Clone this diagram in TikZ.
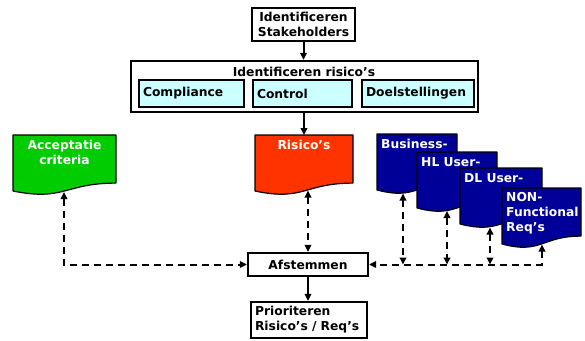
\documentclass[tikz,border=0pt]{standalone}
\usepackage{fontspec}
\setmainfont{DejaVu Sans}
\usetikzlibrary{arrows.meta}
\definecolor{boxcyan}{HTML}{CCFFFF}
\definecolor{accgreen}{HTML}{00CC00}
\definecolor{riskred}{HTML}{FF3300}
\definecolor{reqnavy}{HTML}{000099}
\newcommand\mydocshape[4]{%
  \filldraw[fill=#4, draw=black, line width=1.2pt, line join=round]
    (#1,#2) -- ({#1+#3},#2) -- ({#1+#3},{#2+48.1})
    .. controls ({#1+#3/2},{#2+48.1}) and ({#1+#3/2},{#2+66.45}) ..
    (#1,{#2+56}) -- cycle;}
\begin{document}
\begin{tikzpicture}[x=1pt,y=-1pt,
  every node/.style={font=\fontsize{12.3}{15}\selectfont\bfseries},
  box/.style={draw, line width=2.2pt, inner sep=0pt, align=center},
  cbox/.style={box, fill=boxcyan, minimum height=27pt, inner xsep=4pt, align=left},
  doctext/.style={text=white, inner sep=0pt},
  arr/.style={line width=2pt, -{Triangle[length=7pt,width=6.5pt]}},
  darr/.style={line width=2pt, dash pattern=on 7pt off 5pt,
    {Triangle[length=7pt,width=6.5pt]}-{Triangle[length=7pt,width=6.5pt]}},
]
\useasboundingbox (0,0) rectangle (585,340);
\fill[white] (0,0) rectangle (585,340);

% top box
\node[box, minimum width=103pt, minimum height=33pt] (stake) at (303.5,24.5)
  {Identificeren\\Stakeholders};

% big box
\node[box, minimum width=347pt, minimum height=51pt] (big) at (304.5,86.5) {};
\node[inner sep=0pt] (bigtitle) at (304,72) {Identificeren risico’s};
\node[cbox, minimum width=105pt, text width=97pt] (compl) at (191.5,93.5) {Compliance};
\node[cbox, minimum width=99pt, text width=91pt] (contr) at (302.5,93.5) {Control};
\node[cbox, minimum width=112pt, text width=104pt] (doel) at (418,93.5) {Doelstellingen};

% documents
\mydocshape{13}{135}{103}{accgreen}
\node[doctext, anchor=north, align=center] (acc) at (64.5,140) {Acceptatie\\criteria};
\mydocshape{255}{135}{98}{riskred}
\node[doctext, anchor=north] (risk) at (304,140) {Risico’s};
\mydocshape{377}{134}{80}{reqnavy}
\node[doctext, anchor=north west] (bus) at (381,139) {Business-};
\mydocshape{417}{152}{80}{reqnavy}
\node[doctext, anchor=north west] (hl) at (421,157) {HL User-};
\mydocshape{460}{168}{82}{reqnavy}
\node[doctext, anchor=north west] (dl) at (464,173) {DL User-};
\mydocshape{502}{188}{79}{reqnavy}
\node[doctext, anchor=north west, align=left] (non) at (506,192.5) {NON-\\Functional\\Req’s};

\coordinate (risktop) at (304,135);
\coordinate (accb) at (64,192);
\coordinate (risb) at (308,190.5);
\coordinate (busb) at (403,193.5);
\coordinate (hlb) at (447,211);
\coordinate (dlb) at (490,227.5);
\coordinate (nonb) at (542,244.5);

% bottom boxes
\node[box, minimum width=120pt, minimum height=23pt] (afst) at (308,264.5) {Afstemmen};
\node[box, minimum width=116pt, minimum height=36pt, inner xsep=4pt, text width=108pt, align=left]
  (prio) at (309,320) {Prioriteren\\Risico’s / Req’s};

% solid arrows
\draw[arr] (stake.south) -- (stake.south |- big.north);
\draw[arr] (big.south -| risktop) -- (risktop);
\draw[arr] (afst.south) -- (afst.south |- prio.north);

% dashed arrows
\draw[darr] (accb) |- (afst.west);
\draw[darr] (risb) -- (risb |- afst.north);
\draw[darr] (nonb) |- (afst.east);
\draw[darr] (busb) -- (busb |- afst.east);
\draw[darr] (hlb) -- (hlb |- afst.east);
\draw[darr] (dlb) -- (dlb |- afst.east);
\end{tikzpicture}
\end{document}
